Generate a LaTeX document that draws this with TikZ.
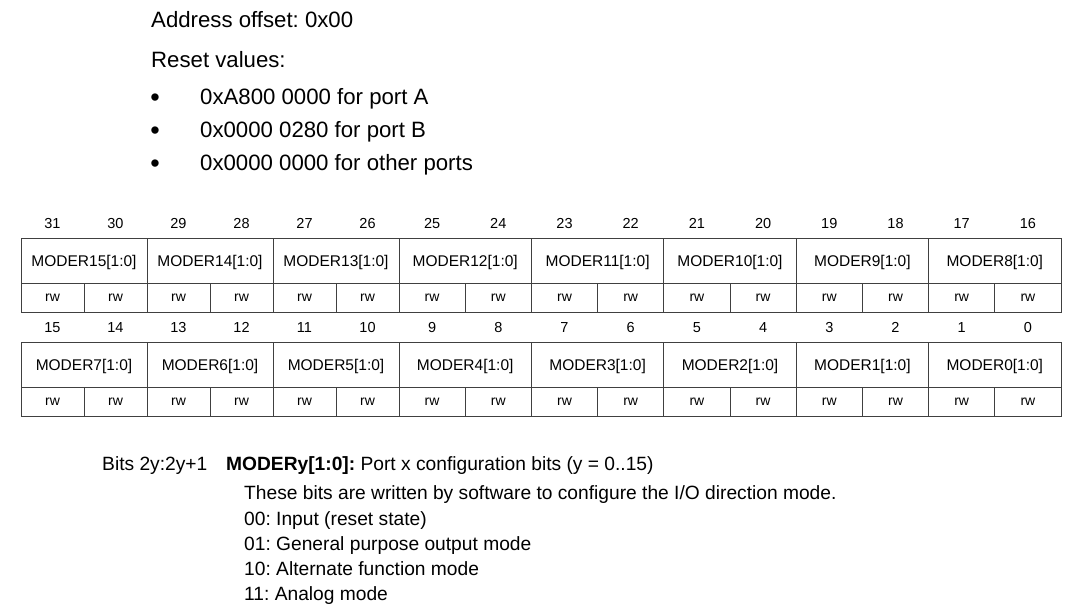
\documentclass[tikz,border=0pt]{standalone}
\usepackage{fontspec}
\setmainfont{Liberation Sans}
\frenchspacing
\definecolor{gridline}{HTML}{404040}
\begin{document}
\begin{tikzpicture}[x=1pt,y=-1pt,
  txt/.style={inner sep=0pt,anchor=base west,font=\fontsize{22.2}{26}\selectfont},
  bul/.style={inner sep=0pt,anchor=center,font=\fontsize{27}{31}\selectfont},
  desc/.style={inner sep=0pt,anchor=base west,font=\fontsize{19.2}{23}\selectfont},
  bitnum/.style={inner sep=0pt,anchor=base,font=\fontsize{14.5}{17}\selectfont},
  fieldlbl/.style={inner sep=0pt,anchor=base,font=\fontsize{15.5}{18}\selectfont},
  acc/.style={inner sep=0pt,anchor=base,font=\fontsize{14}{16}\selectfont},
  grid/.style={draw=gridline,line width=0.9pt}]
\useasboundingbox[fill=white] (0,0) rectangle (1077,610);

% header text
\node[txt] (addr) at (151,28) {Address offset: 0x00};
\node[txt] (reset) at (151,68) {Reset values:};
\node[bul] (b1) at (155,100.5) {•};
\node[txt] (v1) at (200,104) {0xA800 0000 for port A};
\node[bul] (b2) at (155,133.5) {•};
\node[txt] (v2) at (200,137) {0x0000 0280 for port B};
\node[bul] (b3) at (155,166.5) {•};
\node[txt] (v3) at (200,170) {0x0000 0000 for other ports};

% register table
\foreach \row/\ytop/\base in {0/238/16, 1/342/0} {
  \pgfmathsetmacro\ymid{\ytop+45}
  \pgfmathsetmacro\ybot{\ytop+74}
  \draw[grid] (21,\ytop) rectangle (1061,\ybot);
  \draw[grid] (21,\ymid) -- (1061,\ymid);
  \foreach \k in {0,...,15} {
    \pgfmathsetmacro\xl{\k<6 ? 21+63*\k : 399+66.2*(\k-6)}
    \pgfmathsetmacro\xr{\k<5 ? 21+63*(\k+1) : 399+66.2*(\k-5)}
    \pgfmathsetmacro\xc{(\xl+\xr)/2}
    \pgfmathtruncatemacro\bit{\base+15-\k}
    \node[bitnum] (num\row-\k) at (\xc,\ytop-10) {\bit};
    \node[acc] (rw\row-\k) at (\xc,\ytop+63) {rw};
    \ifodd\k
      \draw[grid] (\xl,\ymid) -- (\xl,\ybot);
    \else
      \ifnum\k>0 \draw[grid] (\xl,\ytop) -- (\xl,\ybot); \fi
    \fi
  }
  \foreach \j in {0,...,7} {
    \pgfmathsetmacro\xl{\j<3 ? 21+126*\j : 399+132.4*(\j-3)}
    \pgfmathsetmacro\xr{\j<3 ? 21+126*(\j+1) : 399+132.4*(\j-2)}
    \pgfmathsetmacro\xc{(\xl+\xr)/2}
    \pgfmathtruncatemacro\fld{\base/2+7-\j}
    \node[fieldlbl] (fld\row-\j) at (\xc,\ytop+28) {MODER\fld[1:0]};
  }
}

% description
\node[desc] (bits) at (102,470) {Bits 2y:2y+1};
\node[desc] (title) at (226,470) {\textbf{MODERy[1:0]:} Port x configuration bits (y = 0..15)};
\node[desc] (d1) at (244,499) {These bits are written by software to configure the I/O direction mode.};
\node[desc] (d2) at (244,525) {00: Input (reset state)};
\node[desc] (d3) at (244,550) {01: General purpose output mode};
\node[desc] (d4) at (244,575) {10: Alternate function mode};
\node[desc] (d5) at (244,600) {11: Analog mode};
\end{tikzpicture}
\end{document}
